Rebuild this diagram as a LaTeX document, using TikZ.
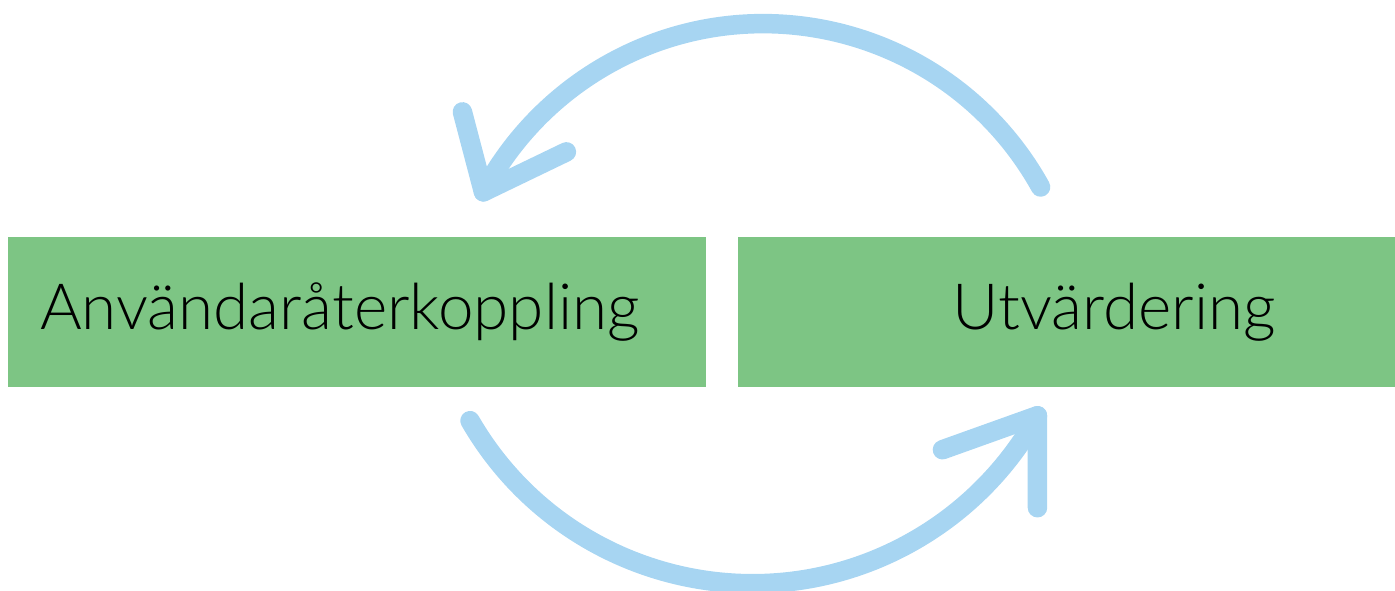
\documentclass[tikz,border=0pt]{standalone}
\usepackage{fontspec}
\setmainfont{Lato}[UprightFont={* Light}]
\usetikzlibrary{positioning}
\definecolor{boxgreen}{HTML}{7DC584}
\definecolor{arcblue}{HTML}{A7D5F2}
\begin{document}
\begin{tikzpicture}[
      x=0.02cm, y=0.02cm,
      B/.style={fill=boxgreen, minimum height=3cm, inner ysep=0pt, font=\fontsize{36.3}{40}\selectfont},
      A/.style={draw=arcblue, line width=0.39cm, line cap=round, line join=round}]
      \useasboundingbox (0,0) rectangle (1395,591);
      \node[B, anchor=north west, inner xsep=0.64cm, text width=12.68cm, align=left] (fb) at (8,354) {Användaråterkoppling};
      \node[B, right=0.62cm of fb, inner xsep=2.4cm, text width=8.36cm, align=right] (ev) {Utvärdering};
      % upper loop, back to feedback
      \draw[A] (ev.north west) ++(303,50) arc[start angle=29, end angle=152, radius=317] coordinate (tipfb);
      \draw[A] (tipfb) ++(-21,80) -- (tipfb) -- ++(83,40);
      % lower loop, on to evaluation
      \draw[A] (fb.south west) ++(462,-33) arc[start angle=-150, end angle=-29, radius=326] coordinate (tipev);
      \draw[A] (tipev) ++(-95,-34) -- (tipev) -- ++(0,-92);
    \end{tikzpicture}
\end{document}
